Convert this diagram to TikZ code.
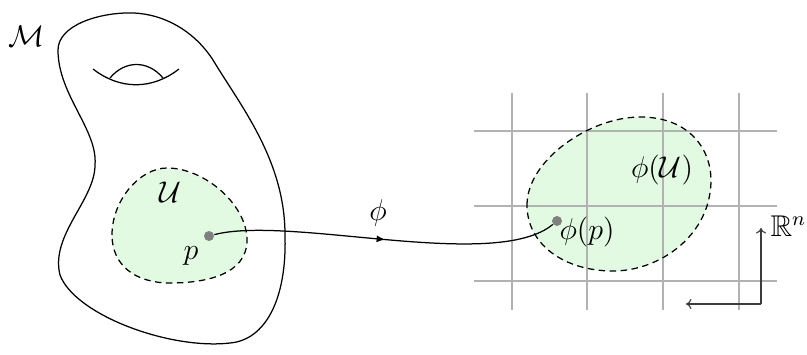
\documentclass[tikz,border=0pt]{standalone}
\usepackage{amssymb}
\usetikzlibrary{decorations.markings,arrows.meta}
\definecolor{regfill}{RGB}{225,250,225}
\definecolor{gridgray}{RGB}{178,178,178}
\definecolor{ptgray}{RGB}{128,128,128}
\definecolor{axisgray}{RGB}{60,60,60}
\newcommand\regionUpath{(112,235) .. controls (112,200) and (140,168) .. (167,168)
  .. controls (205,168) and (247,205) .. (247,240)
  .. controls (247,275) and (205,283) .. (170,283)
  .. controls (135,283) and (112,265) .. (112,235) -- cycle}
\newcommand\regionVpath{(527,205) .. controls (527,160) and (590,117) .. (640,117)
  .. controls (690,117) and (711,150) .. (711,180)
  .. controls (711,235) and (660,271) .. (613,271)
  .. controls (565,271) and (527,245) .. (527,205) -- cycle}
\begin{document}
\begin{tikzpicture}[x=0.4pt,y=-0.4pt,
  outline/.style={line width=0.5pt},
  region/.style={dash pattern=on 2.6pt off 1.8pt, line width=0.5pt},
  gridline/.style={gridgray, line width=0.5pt},
  pt/.style={circle, fill=ptgray, inner sep=0pt, minimum size=4pt},
  conn/.style={line width=0.5pt, postaction={decorate},
    decoration={markings, mark=at position 0.5 with {\arrow{Latex[length=3.4pt,width=2.8pt]}}}},
  axis/.style={axisgray, line width=0.45pt, -{To[length=2.2pt,width=4pt]}},
  lab/.style={inner sep=0pt, font=\large}]
\useasboundingbox (0,0) rectangle (807,354);
% manifold
\draw[outline] (58,50) .. controls (58,25) and (100,12) .. (133,13)
  .. controls (165,14) and (195,32) .. (213,60)
  .. controls (240,105) and (285,160) .. (285,235)
  .. controls (287,300) and (265,340) .. (230,343)
  .. controls (170,350) and (75,315) .. (60,275)
  .. controls (50,235) and (95,200) .. (95,165)
  .. controls (98,130) and (58,95) .. (58,50) -- cycle;
% handle
\draw[outline] (93,69) .. controls (120,90) and (152,90) .. (179,69);
\draw[outline] (110,78) .. controls (125,60) and (148,60) .. (163,78);
% region U
\fill[regfill] \regionUpath;
\draw[region] \regionUpath;
% phi(U)
\fill[regfill] \regionVpath;
% grid
\foreach \gx in {512,587,663,739} \draw[gridline] (\gx,93) -- (\gx,310);
\foreach \gy in {131,206,281} \draw[gridline] (474,\gy) -- (777,\gy);
\draw[region] \regionVpath;
% points
\node[pt] (p) at (209,236) {};
\node[pt] (phip) at (557,221) {};
\draw[conn] (p) .. controls (290,215) and (495,272) .. (phip);
% axes
\coordinate (ax) at (761,304);
\coordinate (axup) at (761,228);
\coordinate (axleft) at (686,304);
\draw[axis] (ax) -- (axup);
\draw[axis] (ax) -- (axleft);
% labels
\node[lab] (Mlab) at (27,36) {$\mathcal{M}$};
\node[lab] (Ulab) at (170,192) {$\mathcal{U}$};
\node[lab] (plab) at (191,256) {$p$};
\node[lab] (philab) at (378,213) {$\phi$};
\node[lab] (phiUlab) at (662,170) {$\phi(\mathcal{U})$};
\node[lab] (phiplab) at (587,232) {$\phi(p)$};
\node[lab, anchor=west] (Rn) at (770,226) {$\mathbb{R}^n$};
\end{tikzpicture}
\end{document}
